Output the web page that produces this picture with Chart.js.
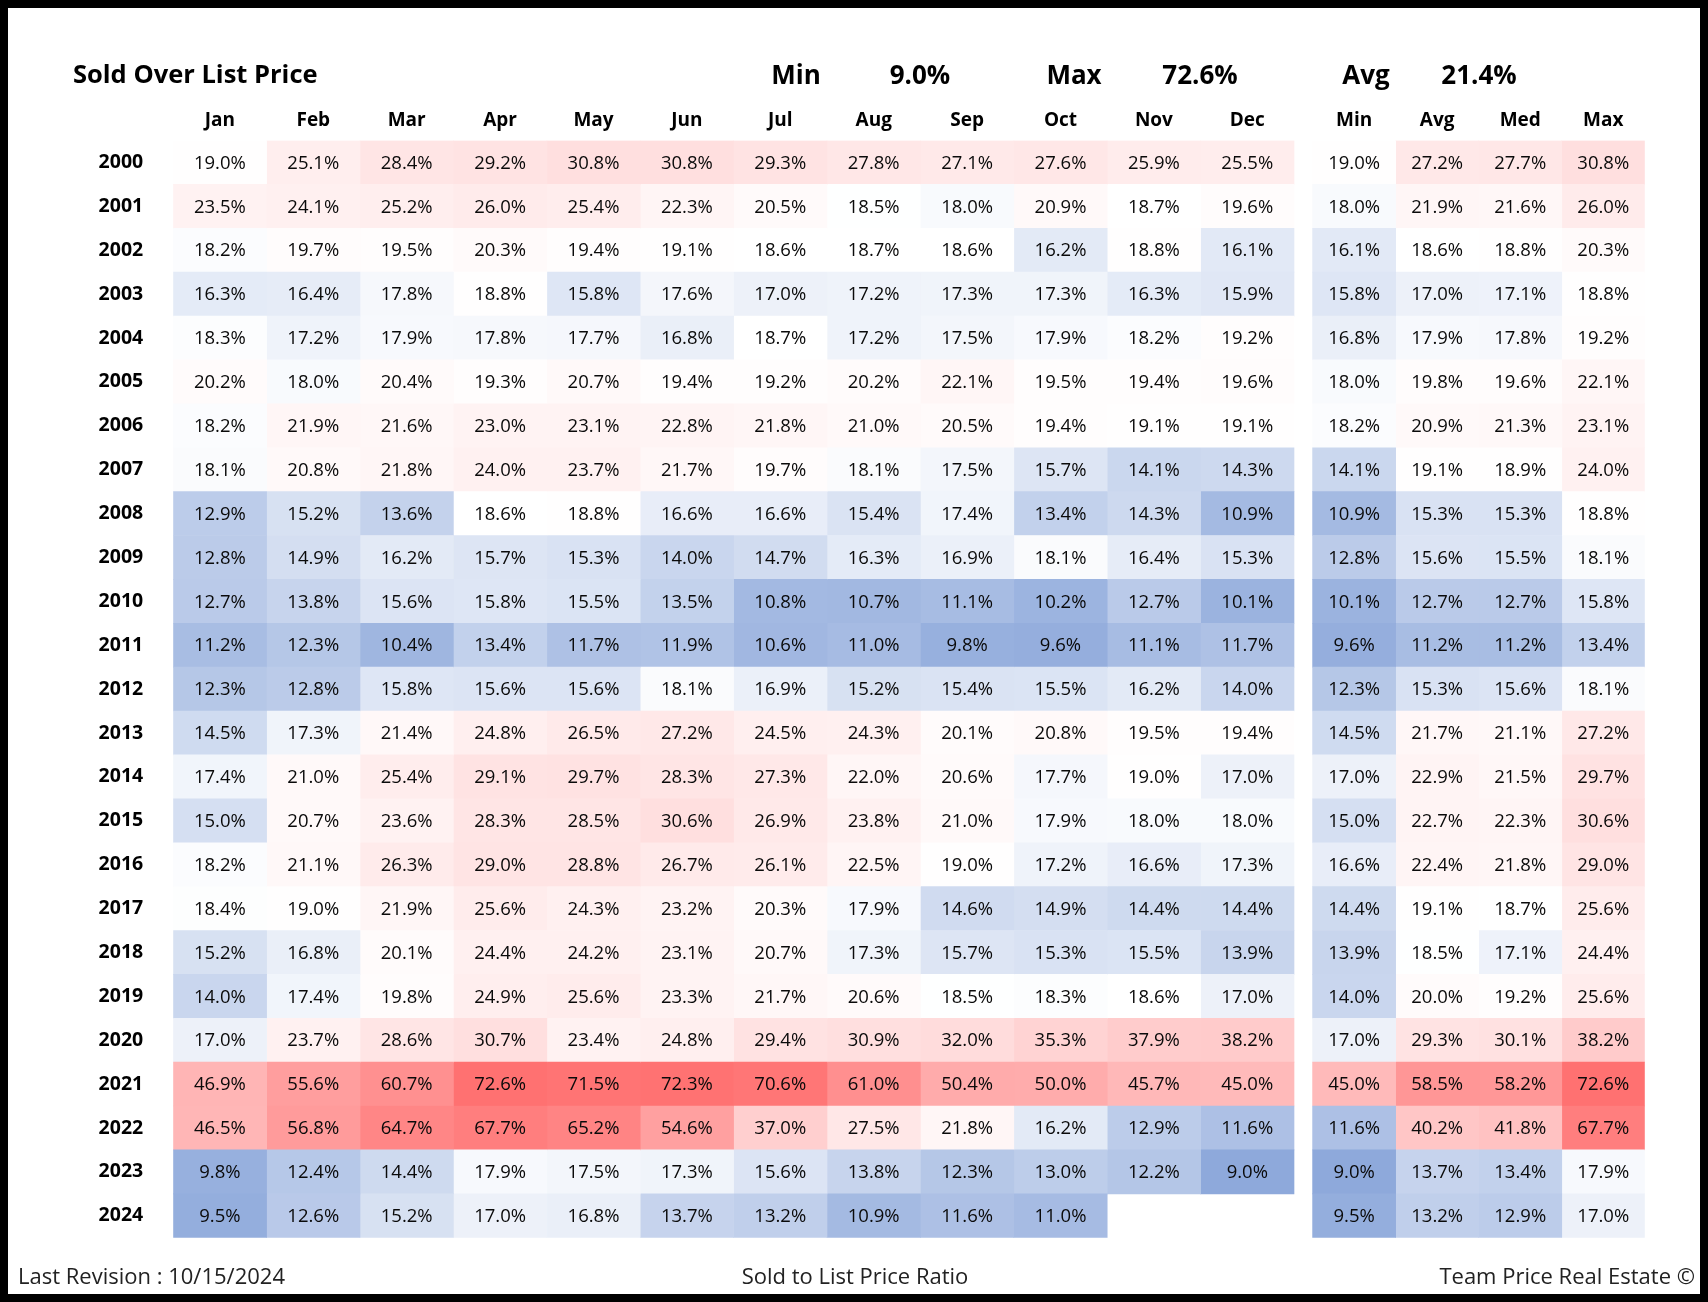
<!DOCTYPE html>
<html>
<head>
<meta charset="utf-8">
<title>Sold Over List Price</title>
<script src="https://cdn.jsdelivr.net/npm/chart.js@4.4.0/dist/chart.umd.min.js"></script>
<style>
  html, body { margin: 0; padding: 0; background: #000; width: 1708px; height: 1302px; overflow: hidden; }
  #frame { position: absolute; left: 8px; top: 8px; width: 1692px; height: 1286px; background: #fff; }
  #heat { position: absolute; left: 0; top: 0; }
  .txt { position: absolute; font-family: 'Open Sans', sans-serif; color: #000; white-space: nowrap; line-height: 1; }
  .big { font-size: 26px; font-weight: bold; top: 61px; }
  .foot { font-size: 22px; top: 1264px; color: #222; }
</style>
</head>
<body>
<div id="frame"></div>
<canvas id="heat" width="1708" height="1302"></canvas>

<div class="txt big" style="left:73px;font-size:25.5px">Sold Over List Price</div>
<div class="txt big" style="left:796px;transform:translateX(-50%)">Min</div>
<div class="txt big" id="hMin" style="left:920px;transform:translateX(-50%)"></div>
<div class="txt big" style="left:1074px;transform:translateX(-50%)">Max</div>
<div class="txt big" id="hMax" style="left:1200px;transform:translateX(-50%)"></div>
<div class="txt big" style="left:1366px;transform:translateX(-50%)">Avg</div>
<div class="txt big" id="hAvg" style="left:1479px;transform:translateX(-50%)"></div>

<div class="txt foot" style="left:18px">Last Revision : 10/15/2024</div>
<div class="txt foot" style="left:855px;transform:translateX(-50%)">Sold to List Price Ratio</div>
<div class="txt foot" style="right:13px">Team Price Real Estate ©</div>

<script>
// === DATA ===
const years = ['2000', '2001', '2002', '2003', '2004', '2005', '2006', '2007', '2008', '2009',
  '2010', '2011', '2012', '2013', '2014', '2015', '2016', '2017', '2018', '2019',
  '2020', '2021', '2022', '2023', '2024'];
const months = ['Jan', 'Feb', 'Mar', 'Apr', 'May', 'Jun', 'Jul', 'Aug', 'Sep', 'Oct', 'Nov', 'Dec'];
const summaryLabels = ['Min', 'Avg', 'Med', 'Max'];

// monthly values (%), one row per year
const monthly = [
  [19.0, 25.1, 28.4, 29.2, 30.8, 30.8, 29.3, 27.8, 27.1, 27.6, 25.9, 25.5],
  [23.5, 24.1, 25.2, 26.0, 25.4, 22.3, 20.5, 18.5, 18.0, 20.9, 18.7, 19.6],
  [18.2, 19.7, 19.5, 20.3, 19.4, 19.1, 18.6, 18.7, 18.6, 16.2, 18.8, 16.1],
  [16.3, 16.4, 17.8, 18.8, 15.8, 17.6, 17.0, 17.2, 17.3, 17.3, 16.3, 15.9],
  [18.3, 17.2, 17.9, 17.8, 17.7, 16.8, 18.7, 17.2, 17.5, 17.9, 18.2, 19.2],
  [20.2, 18.0, 20.4, 19.3, 20.7, 19.4, 19.2, 20.2, 22.1, 19.5, 19.4, 19.6],
  [18.2, 21.9, 21.6, 23.0, 23.1, 22.8, 21.8, 21.0, 20.5, 19.4, 19.1, 19.1],
  [18.1, 20.8, 21.8, 24.0, 23.7, 21.7, 19.7, 18.1, 17.5, 15.7, 14.1, 14.3],
  [12.9, 15.2, 13.6, 18.6, 18.8, 16.6, 16.6, 15.4, 17.4, 13.4, 14.3, 10.9],
  [12.8, 14.9, 16.2, 15.7, 15.3, 14.0, 14.7, 16.3, 16.9, 18.1, 16.4, 15.3],
  [12.7, 13.8, 15.6, 15.8, 15.5, 13.5, 10.8, 10.7, 11.1, 10.2, 12.7, 10.1],
  [11.2, 12.3, 10.4, 13.4, 11.7, 11.9, 10.6, 11.0, 9.8, 9.6, 11.1, 11.7],
  [12.3, 12.8, 15.8, 15.6, 15.6, 18.1, 16.9, 15.2, 15.4, 15.5, 16.2, 14.0],
  [14.5, 17.3, 21.4, 24.8, 26.5, 27.2, 24.5, 24.3, 20.1, 20.8, 19.5, 19.4],
  [17.4, 21.0, 25.4, 29.1, 29.7, 28.3, 27.3, 22.0, 20.6, 17.7, 19.0, 17.0],
  [15.0, 20.7, 23.6, 28.3, 28.5, 30.6, 26.9, 23.8, 21.0, 17.9, 18.0, 18.0],
  [18.2, 21.1, 26.3, 29.0, 28.8, 26.7, 26.1, 22.5, 19.0, 17.2, 16.6, 17.3],
  [18.4, 19.0, 21.9, 25.6, 24.3, 23.2, 20.3, 17.9, 14.6, 14.9, 14.4, 14.4],
  [15.2, 16.8, 20.1, 24.4, 24.2, 23.1, 20.7, 17.3, 15.7, 15.3, 15.5, 13.9],
  [14.0, 17.4, 19.8, 24.9, 25.6, 23.3, 21.7, 20.6, 18.5, 18.3, 18.6, 17.0],
  [17.0, 23.7, 28.6, 30.7, 23.4, 24.8, 29.4, 30.9, 32.0, 35.3, 37.9, 38.2],
  [46.9, 55.6, 60.7, 72.6, 71.5, 72.3, 70.6, 61.0, 50.4, 50.0, 45.7, 45.0],
  [46.5, 56.8, 64.7, 67.7, 65.2, 54.6, 37.0, 27.5, 21.8, 16.2, 12.9, 11.6],
  [9.8, 12.4, 14.4, 17.9, 17.5, 17.3, 15.6, 13.8, 12.3, 13.0, 12.2, 9.0],
  [9.5, 12.6, 15.2, 17.0, 16.8, 13.7, 13.2, 10.9, 11.6, 11.0, null, null]
];

// yearly summary columns (%)
const yearMin = [19.0, 18.0, 16.1, 15.8, 16.8, 18.0, 18.2, 14.1, 10.9, 12.8, 10.1, 9.6, 12.3,
  14.5, 17.0, 15.0, 16.6, 14.4, 13.9, 14.0, 17.0, 45.0, 11.6, 9.0, 9.5];
const yearAvg = [27.2, 21.9, 18.6, 17.0, 17.9, 19.8, 20.9, 19.1, 15.3, 15.6, 12.7, 11.2, 15.3,
  21.7, 22.9, 22.7, 22.4, 19.1, 18.5, 20.0, 29.3, 58.5, 40.2, 13.7, 13.2];
const yearMed = [27.7, 21.6, 18.8, 17.1, 17.8, 19.6, 21.3, 18.9, 15.3, 15.5, 12.7, 11.2, 15.6,
  21.1, 21.5, 22.3, 21.8, 18.7, 17.1, 19.2, 30.1, 58.2, 41.8, 13.4, 12.9];
const yearMax = [30.8, 26.0, 20.3, 18.8, 19.2, 22.1, 23.1, 24.0, 18.8, 18.1, 15.8, 13.4, 18.1,
  27.2, 29.7, 30.6, 29.0, 25.6, 24.4, 25.6, 38.2, 72.6, 67.7, 17.9, 17.0];

// headline stats: Min, Max, Avg
const headline = [9.0, 72.6, 21.4];

// === STYLE ===
const FONT = "'Open Sans', sans-serif";
const COLORS = { low: [142, 169, 219], mid: [255, 255, 255], high: [255, 113, 113] };
const MONTH_W = 93.4, GAP_W = 18.6, SUM_W = 83.05;

document.getElementById('hMin').textContent = headline[0].toFixed(1) + '%';
document.getElementById('hMax').textContent = headline[1].toFixed(1) + '%';
document.getElementById('hAvg').textContent = headline[2].toFixed(1) + '%';

// 3-colour scale, midpoint = median of monthly values
const flat = monthly.flat().filter(v => v !== null).sort((a, b) => a - b);
const vMin = flat[0], vMax = flat[flat.length - 1];
const vMid = flat.length % 2 ? flat[(flat.length - 1) / 2]
  : (flat[flat.length / 2 - 1] + flat[flat.length / 2]) / 2;

function mix(a, b, t) {
  return 'rgb(' + a.map((c, i) => Math.round(c + (b[i] - c) * t)).join(',') + ')';
}
function cellColor(v) {
  if (v === null || v === undefined) return 'rgba(0,0,0,0)';
  if (v <= vMid) return mix(COLORS.mid, COLORS.low, Math.min(1, (vMid - v) / (vMid - vMin)));
  return mix(COLORS.mid, COLORS.high, Math.min(1, (v - vMid) / (vMax - vMid)));
}

// === COLUMNS (stacked horizontal bars, one dataset per column) ===
const columns = [];
months.forEach((m, i) => columns.push({ label: m, width: MONTH_W, values: monthly.map(r => r[i]) }));
columns.push({ label: '', width: GAP_W, values: null });
[yearMin, yearAvg, yearMed, yearMax].forEach((arr, i) =>
  columns.push({ label: summaryLabels[i], width: SUM_W, values: arr }));

const totalW = columns.reduce((s, c) => s + c.width, 0);
const tickCenters = [];
let acc = 0;
columns.forEach(c => {
  if (c.label) tickCenters.push({ value: acc + c.width / 2, label: c.label });
  acc += c.width;
});

const datasets = columns.map(c => ({
  label: c.label || 'gap',
  data: years.map(() => c.width),
  values: c.values,
  backgroundColor: years.map((_, r) => c.values ? cellColor(c.values[r]) : 'rgba(0,0,0,0)'),
  borderWidth: 0,
  borderSkipped: false,
  barPercentage: 1,
  categoryPercentage: 1
}));

// === LABELS IN CELLS ===
const cellLabels = {
  id: 'cellLabels',
  afterDatasetsDraw(chart) {
    const ctx = chart.ctx;
    ctx.save();
    ctx.font = '18.5px ' + FONT;
    ctx.fillStyle = '#0a0a0a';
    ctx.textAlign = 'center';
    ctx.textBaseline = 'middle';
    chart.data.datasets.forEach((ds, di) => {
      if (!ds.values) return;
      chart.getDatasetMeta(di).data.forEach((el, r) => {
        const v = ds.values[r];
        if (v === null || v === undefined) return;
        const p = el.getCenterPoint();
        ctx.fillText(v.toFixed(1) + '%', p.x, p.y + 1);
      });
    });
    ctx.restore();
  }
};

new Chart(document.getElementById('heat'), {
  type: 'bar',
  data: { labels: years, datasets: datasets },
  options: {
    indexAxis: 'y',
    responsive: false,
    animation: false,
    layout: { padding: { left: 73.2, right: 63.2, top: 100.5, bottom: 64.3 } },
    plugins: { legend: { display: false }, tooltip: { enabled: false }, title: { display: false } },
    scales: {
      x: {
        type: 'linear',
        position: 'top',
        stacked: true,
        min: 0,
        max: totalW,
        grid: { display: false, drawTicks: false },
        border: { display: false },
        afterFit: (scale) => { scale.height = 40; },
        afterBuildTicks: (scale) => { scale.ticks = tickCenters.map(t => ({ value: t.value })); },
        ticks: {
          autoSkip: false,
          maxRotation: 0,
          padding: 8.5,
          color: '#000',
          font: { family: FONT, size: 19, weight: 'bold' },
          callback: (val, i) => tickCenters[i] ? tickCenters[i].label : ''
        }
      },
      y: {
        type: 'category',
        stacked: true,
        grid: { display: false, drawTicks: false },
        border: { display: false },
        afterFit: (scale) => { scale.width = 100; },
        ticks: {
          padding: 30,
          color: '#000',
          font: { family: FONT, size: 19.5, weight: 'bold' }
        }
      }
    }
  },
  plugins: [cellLabels]
});
</script>
</body>
</html>
